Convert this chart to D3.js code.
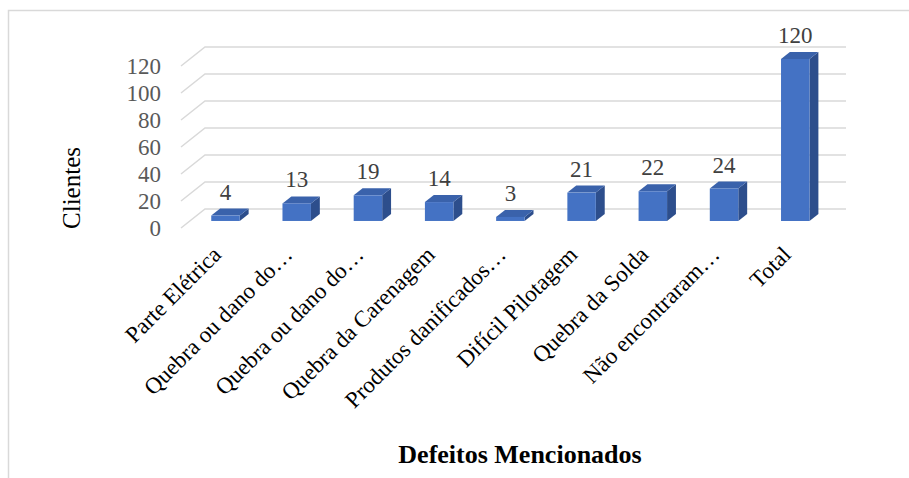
<!DOCTYPE html>
<html>
<head>
<meta charset="utf-8">
<script src="https://cdn.jsdelivr.net/npm/d3@7"></script>
<style>
  body { margin: 0; background: #fff; }
  svg { display: block; }
</style>
</head>
<body>
<svg></svg>
<script>
const categories = [
  'Parte Elétrica',
  'Quebra ou dano do…',
  'Quebra ou dano do…',
  'Quebra da Carenagem',
  'Produtos danificados…',
  'Difícil Pilotagem',
  'Quebra da Solda',
  'Não encontraram…',
  'Total'
];
const clientes = [4, 13, 19, 14, 3, 21, 22, 24, 120];
const yTicks = [0, 20, 40, 60, 80, 100, 120];

const WIDTH = 909;
const HEIGHT = 478;
const FONT = '"Liberation Serif", "Times New Roman", serif';

const FRONT_COLOR = '#4472c4';
const TOP_COLOR = '#3a62ab';
const SIDE_COLOR = '#2d4e8c';
const GRID_COLOR = '#d9d9d9';

// front-left corner of the floor, width of the wall and the 3D depth offset
const ORIGIN = {x: 181, y: 228};
const PLOT_W = 641;
const PLOT_H = 162;
const DEPTH = {x: 24, y: -19};
const BAR_FRONT = 0.37;
const BAR_BACK = 0.74;

var svg = d3.select('svg')
    .attr('width', WIDTH)
    .attr('height', HEIGHT);

// chart border (only top and left visible in the crop)
svg.append('path')
    .attr('d', 'M8.5,' + (HEIGHT + 2) + 'V10.5H' + (WIDTH + 2))
    .attr('fill', 'none')
    .attr('stroke', GRID_COLOR)
    .attr('stroke-width', 1.5);

var x = d3.scaleBand()
    .domain(d3.range(categories.length))
    .range([0, PLOT_W])
    .paddingInner(0.6)
    .paddingOuter(0.3);

var y = d3.scaleLinear()
    .domain([0, 120])
    .range([0, PLOT_H]);

// project a point: horizontal position, value, depth (0 front .. 1 back wall)
const pt = (px, v, d) => [ORIGIN.x + px + d * DEPTH.x, ORIGIN.y - y(v) + d * DEPTH.y];

/* gridlines: side diagonal + back wall */
svg.append('g')
    .selectAll('path')
    .data(yTicks)
    .join('path')
    .attr('fill', 'none')
    .attr('stroke', GRID_COLOR)
    .attr('stroke-width', 1.5)
    .attr('d', t => d3.line()([pt(0, t, 0), pt(0, t, 1), pt(PLOT_W, t, 1)]));

/* y tick labels */
svg.append('g')
    .selectAll('text')
    .data(yTicks)
    .join('text')
    .attr('x', 161)
    .attr('y', t => pt(0, t, 0)[1])
    .attr('dy', '0.35em')
    .attr('text-anchor', 'end')
    .attr('font-family', FONT)
    .attr('font-size', 23)
    .attr('fill', '#595959')
    .text(t => t);

/* bars */
var bars = svg.append('g')
    .selectAll('g')
    .data(clientes)
    .join('g');

bars.append('path')
    .attr('fill', SIDE_COLOR)
    .attr('d', (v, i) => {
        var x1 = x(i) + x.bandwidth();
        return d3.line()([pt(x1, 0, BAR_FRONT), pt(x1, 0, BAR_BACK), pt(x1, v, BAR_BACK), pt(x1, v, BAR_FRONT)]) + 'Z';
    });

bars.append('path')
    .attr('fill', TOP_COLOR)
    .attr('d', (v, i) => {
        var x0 = x(i), x1 = x(i) + x.bandwidth();
        return d3.line()([pt(x0, v, BAR_FRONT), pt(x0, v, BAR_BACK), pt(x1, v, BAR_BACK), pt(x1, v, BAR_FRONT)]) + 'Z';
    });

bars.append('path')
    .attr('fill', FRONT_COLOR)
    .attr('d', (v, i) => {
        var x0 = x(i), x1 = x(i) + x.bandwidth();
        return d3.line()([pt(x0, 0, BAR_FRONT), pt(x0, v, BAR_FRONT), pt(x1, v, BAR_FRONT), pt(x1, 0, BAR_FRONT)]) + 'Z';
    });

/* data labels */
bars.append('text')
    .attr('x', (v, i) => pt(x(i) + x.bandwidth() / 2, v, BAR_FRONT)[0])
    .attr('y', (v, i) => pt(0, v, BAR_FRONT)[1] - 24)
    .attr('dy', '0.35em')
    .attr('text-anchor', 'middle')
    .attr('font-family', FONT)
    .attr('font-size', 23)
    .attr('fill', '#404040')
    .text(v => v);

/* category labels, rotated */
svg.append('g')
    .selectAll('text')
    .data(categories)
    .join('text')
    .attr('transform', (c, i) => {
        var p = pt(x(i) + x.bandwidth() / 2, 0, BAR_FRONT);
        return 'translate(' + (p[0] - 3) + ',' + 256 + ') rotate(-45)';
    })
    .attr('text-anchor', 'end')
    .attr('font-family', FONT)
    .attr('font-size', 23)
    .attr('fill', '#000')
    .text(c => c);

/* axis titles */
svg.append('text')
    .attr('transform', 'translate(80,188) rotate(-90)')
    .attr('text-anchor', 'middle')
    .attr('font-family', FONT)
    .attr('font-size', 25)
    .attr('fill', '#000')
    .text('Clientes');

svg.append('text')
    .attr('x', 520)
    .attr('y', 463)
    .attr('text-anchor', 'middle')
    .attr('font-family', FONT)
    .attr('font-size', 26)
    .attr('font-weight', 'bold')
    .attr('fill', '#000')
    .text('Defeitos Mencionados');
</script>
</body>
</html>
